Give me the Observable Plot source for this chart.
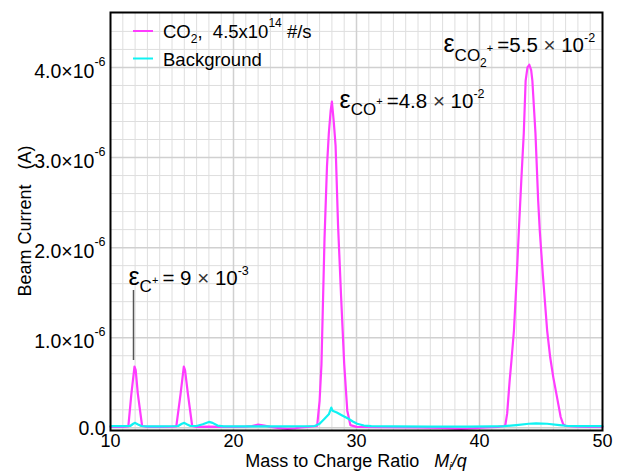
<!DOCTYPE html>
<html><head><meta charset="utf-8">
<script src="https://cdn.jsdelivr.net/npm/d3@7"></script>
<script src="https://cdn.jsdelivr.net/npm/@observablehq/plot@0.6"></script>
<style>html,body{margin:0;padding:0;background:#fff;} svg{display:block}</style>
</head><body><div id="chart"></div>
<script>
// CO2 signal (current in units of 1e-6 A)
const co2Mass = [10.0,11.0,11.45,11.7,11.95,12.05,12.22,12.57,13.0,14.0,15.0,15.35,15.7,15.96,16.06,16.29,16.64,17.0,18.0,19.0,20.0,21.0,21.5,22.0,22.5,23.0,23.6,24.4,25.0,25.5,26.0,26.8,27.0,27.15,27.4,27.6,27.75,27.9,28.0,28.15,28.3,28.5,28.75,29.0,29.25,29.5,30.0,32.0,35.0,37.0,38.5,39.5,40.5,41.5,42.0,42.1,42.25,42.45,42.6,42.8,43.0,43.2,43.4,43.6,43.75,43.9,44.05,44.2,44.3,44.45,44.55,44.77,44.9,45.15,45.5,45.75,46.0,46.3,46.6,46.8,47.0,48.0,49.0,50.0];
const co2Current = [0.01,0.01,0.015,0.38,0.68,0.64,0.38,0.02,0.01,0.01,0.012,0.015,0.38,0.68,0.64,0.38,0.02,0.01,0.012,0.01,0.01,0.012,0.02,0.035,0.025,0.01,0.0,-0.012,-0.005,0.005,0.01,0.02,0.3,0.7,2.1,2.9,3.27,3.52,3.62,3.4,3.13,2.25,1.45,0.71,0.19,0.03,0.01,0.008,0.005,0.0,-0.012,-0.005,0.005,0.01,0.02,0.03,0.16,0.52,0.75,1.08,1.6,2.19,2.75,3.27,3.85,4.0,4.03,3.97,3.85,3.5,3.27,2.52,2.19,1.7,1.08,0.78,0.56,0.34,0.12,0.04,0.02,0.012,0.01,0.01];
// Background signal
const bgMass = [10.0,11.0,11.6,11.85,12.0,12.2,12.5,13.0,14.0,15.0,15.5,15.8,16.0,16.2,16.5,17.0,17.5,18.0,18.3,18.7,19.2,20.0,22.0,24.0,26.0,26.6,27.0,27.4,27.75,27.95,28.05,28.4,28.8,29.35,29.7,30.05,30.6,31.2,33.0,36.0,39.0,41.0,42.0,43.0,44.0,44.6,45.5,46.5,47.2,48.0,50.0];
const bgCurrent = [0.018,0.018,0.02,0.045,0.055,0.04,0.02,0.015,0.015,0.017,0.02,0.045,0.055,0.04,0.02,0.02,0.04,0.065,0.055,0.025,0.015,0.015,0.015,0.015,0.017,0.02,0.045,0.1,0.15,0.225,0.19,0.17,0.14,0.1,0.07,0.045,0.025,0.018,0.015,0.014,0.014,0.015,0.018,0.03,0.045,0.05,0.045,0.03,0.02,0.018,0.018];

const xTicks = [10, 20, 30, 40, 50];
const yTicks = [0, 1, 2, 3, 4];
const yTickLabels = ["0.0", "1.0×10", "2.0×10", "3.0×10", "4.0×10"];
const yExponent = "-6";
const xGridMinor = [11,12,13,14,15,16,17,18,19,21,22,23,24,25,26,27,28,29,31,32,33,34,35,36,37,38,39,41,42,43,44,45,46,47,48,49];
const xGridMajor = [20, 30, 40];
const yGridMinor = [0.2,0.4,0.6,0.8,1.2,1.4,1.6,1.8,2.2,2.4,2.6,2.8,3.2,3.4,3.6,3.8,4.2,4.4];
const yGridMajor = [0, 1, 2, 3, 4];

const seriesNames = ["CO2", "Background"];
const seriesColors = ["#ff3cff", "#10f2f2"];

// annotations: id, mass, current (text baseline start)
const annId = ["C", "CO", "CO2"];
const annMass = [11.46, 28.62, 37.07];
const annCurrent = [1.58, 3.555, 4.17];
const leaderMass = [11.87];
const leaderFrom = [0.747];
const leaderTo = [1.524];

const co2 = co2Mass.map((m, i) => ({m, c: co2Current[i]}));
const bg = bgMass.map((m, i) => ({m, c: bgCurrent[i]}));
const ann = annId.map((id, i) => ({id, m: annMass[i], c: annCurrent[i]}));
const leader = leaderMass.map((m, i) => ({m, a: leaderFrom[i], b: leaderTo[i]}));

const FONT = "'Liberation Sans', Arial, Helvetica, sans-serif";

const svg = Plot.plot({
  width: 622, height: 471,
  marginLeft: 110, marginRight: 20, marginTop: 12, marginBottom: 41,
  style: {fontFamily: FONT, fontSize: "18px", background: "white", color: "black", overflow: "visible"},
  x: {domain: [10, 50], ticks: xTicks, tickSize: 0, tickPadding: 4, label: null, tickFormat: d => String(d)},
  y: {domain: [-0.03, 4.61], ticks: yTicks, tickSize: 0, tickPadding: 5, label: null,
      tickFormat: d => yTickLabels[yTicks.indexOf(d)]},
  marks: [
    Plot.ruleX(xGridMinor, {stroke: "#dedede", strokeWidth: 1}),
    Plot.ruleY(yGridMinor, {stroke: "#dedede", strokeWidth: 1}),
    Plot.ruleX(xGridMajor, {stroke: "#d0d0d0", strokeWidth: 1.5}),
    Plot.ruleY(yGridMajor, {stroke: "#d0d0d0", strokeWidth: 1.5}),
    Plot.line(co2, {x: "m", y: "c", stroke: seriesColors[0], strokeWidth: 2.2}),
    Plot.line(bg, {x: "m", y: "c", stroke: seriesColors[1], strokeWidth: 2.2}),
    Plot.ruleX(leader, {x: "m", y1: "a", y2: "b", stroke: "#555", strokeWidth: 1.5}),
    Plot.text(ann, {x: "m", y: "c", text: "id", textAnchor: "start", lineAnchor: "bottom", fontSize: 20, fill: "black"}),
    Plot.frame({stroke: "black", strokeWidth: 2})
  ]
});
document.getElementById("chart").appendChild(svg);

function rich(el, segs) {
  const t = d3.select(el);
  t.text(null);
  t.attr("dy", null);
  let prev = 0;
  for (const s of segs) {
    const sp = t.append("tspan").text(s.t);
    if (s.s) sp.attr("font-size", s.s);
    const b = s.b || 0;
    if (b !== prev) sp.attr("dy", b - prev);
    prev = b;
    if (s.dx) sp.attr("dx", s.dx);
    if (s.it) sp.attr("font-style", "italic");
    if (s.fill) sp.attr("fill", s.fill);
  }
}

// annotations
const annSegs = {
  C: [{t: "ε", s: 25, b: 0}, {t: "C", s: 17, b: 7}, {t: "+", s: 11, b: -1},
      {t: "\u2009=\u00a09", s: 20.5, b: 0}, {t: "\u00a0×\u00a0", s: 20.5, b: 0, fill: "#333"}, {t: "10", s: 20.5, b: 0}, {t: "-3", s: 12.5, b: -10}],
  CO: [{t: "ε", s: 25, b: 0}, {t: "CO", s: 17, b: 7}, {t: "+", s: 11, b: -3},
      {t: "\u2009=4.8", s: 20.5, b: 0}, {t: "\u00a0×\u00a0", s: 20.5, b: 0, fill: "#333"}, {t: "10", s: 20.5, b: 0}, {t: "-2", s: 12.5, b: -10}],
  CO2: [{t: "ε", s: 25, b: 0}, {t: "CO", s: 17, b: 9}, {t: "2", s: 12, b: 15}, {t: "+", s: 11, b: 0},
      {t: "\u2009=5.5", s: 20.5, b: 0}, {t: "\u00a0×\u00a0", s: 20.5, b: 0, fill: "#333"}, {t: "10", s: 20.5, b: 0}, {t: "-2", s: 12.5, b: -10}]
};

// y tick labels with superscripts, and annotation rich text
d3.select(svg).selectAll("text").each(function() {
  const txt = this.textContent;
  if (txt.endsWith("×10") && yTickLabels.includes(txt)) {
    rich(this, [{t: txt, s: 19.5, b: 4.7}, {t: yExponent, s: 12.5, b: -7.5}]);
    d3.select(this).attr("dy", "0.32em");
  } else if (txt === "0.0") {
    rich(this, [{t: txt, s: 19.5, b: 1.2}]);
    d3.select(this).attr("dy", "0.32em");
  } else if (Object.prototype.hasOwnProperty.call(annSegs, txt)) {
    rich(this, annSegs[txt]);
  }
});

const root = d3.select(svg);
const xs = svg.scale("x"), ys = svg.scale("y");
const cx = (xs.range[0] + xs.range[1]) / 2;
const cy = (ys.range[0] + ys.range[1]) / 2;

// axis labels
const xl = root.append("text").attr("x", cx).attr("y", 467).attr("text-anchor", "middle")
  .attr("font-size", 18).attr("font-family", FONT).attr("fill", "black");
rich(xl.node(), [{t: "Mass to Charge Ratio\u00a0\u00a0\u00a0", s: 18}, {t: "M", s: 18, it: true}, {t: "i", s: 11, b: 3, it: true}, {t: "/q", s: 18, b: 0, it: true}]);

root.append("text").attr("transform", `translate(31,${cy}) rotate(-90)`).attr("text-anchor", "middle")
  .attr("font-size", 18).attr("font-family", FONT).attr("fill", "black")
  .text("Beam Current\u00a0\u00a0\u00a0(A)");

// legend
const lg = root.append("g").attr("font-family", FONT).attr("font-size", 18.5).attr("fill", "black").attr("text-anchor", "start");
const legendRows = [31, 58.5];
seriesNames.forEach((name, i) => {
  lg.append("line").attr("x1", 133).attr("x2", 153).attr("y1", legendRows[i]).attr("y2", legendRows[i])
    .attr("stroke", seriesColors[i]).attr("stroke-width", 2);
  const t = lg.append("text").attr("x", 163).attr("y", legendRows[i] + 7).attr("text-anchor", "start");
  if (i === 0) rich(t.node(), [{t: "CO"}, {t: "2", s: 12, b: 5}, {t: ",\u00a0\u00a04.5x10", b: 0}, {t: "14", s: 12, b: -11}, {t: "\u00a0#/s", b: 0}]);
  else t.text(name);
});
</script>
</body></html>
